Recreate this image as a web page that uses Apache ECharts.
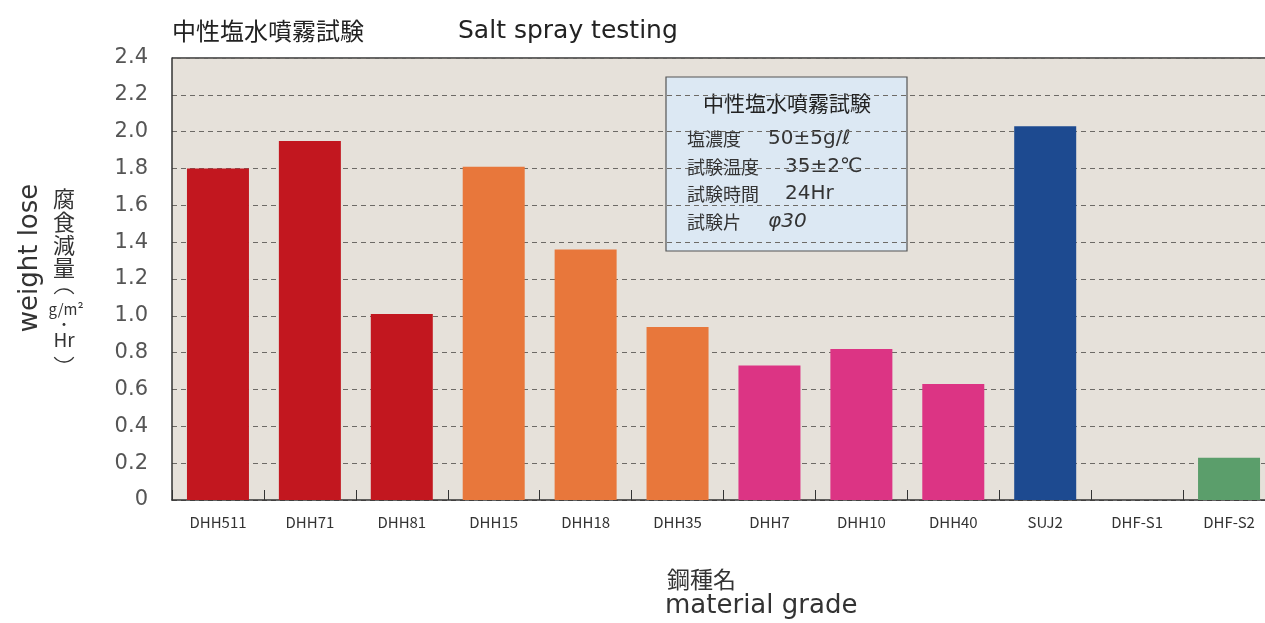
<!DOCTYPE html>
<html>
<head>
<meta charset="utf-8">
<script src="https://cdn.jsdelivr.net/npm/echarts@6/dist/echarts.min.js"></script>
<style>
  html, body { margin: 0; padding: 0; background: #fff; }
  #main { width: 1265px; height: 623px; }
</style>
</head>
<body>
<div id="main"></div>
<script>
// 鋼種名
var grades = ['DHH511', 'DHH71', 'DHH81', 'DHH15', 'DHH18', 'DHH35', 'DHH7', 'DHH10', 'DHH40', 'SUJ2', 'DHF-S1', 'DHF-S2']
// 腐食減量 g/m2・Hr
var weightLose = [1.80, 1.95, 1.01, 1.81, 1.36, 0.94, 0.73, 0.82, 0.63, 2.03, 0, 0.23]
var yTicks = [0, 0.2, 0.4, 0.6, 0.8, 1.0, 1.2, 1.4, 1.6, 1.8, 2.0, 2.2, 2.4]

// colour per bar (steel family)
var barColors = ['#c2171f', '#c2171f', '#c2171f', '#e8773b', '#e8773b', '#e8773b',
  '#dc3484', '#dc3484', '#dc3484', '#1d4a90', '#5b9e6b', '#5b9e6b']

var jp = '"Noto Sans CJK JP", sans-serif'
var lat = '"DejaVu Sans", sans-serif'
var chart = echarts.init(document.getElementById('main'), null, { renderer: 'canvas' })

var option = {
  animation: false,
  backgroundColor: '#fff',
  grid: {
    left: 172,
    top: 58,
    right: -10,
    bottom: 123,
    outerBoundsMode: 'none',
    containLabel: false,
    show: true,
    backgroundColor: '#e6e1da',
    borderWidth: 0
  },
  xAxis: {
    type: 'category',
    data: grades,
    boundaryGap: true,
    axisLine: { lineStyle: { color: '#333', width: 1.5 } },
    axisTick: { show: true, inside: true, length: 10, lineStyle: { color: '#333' } },
    axisLabel: { color: '#333', fontSize: 15, fontFamily: jp, margin: 15, interval: 0, hideOverlap: false }
  },
  yAxis: {
    type: 'value',
    min: 0,
    max: 2.4,
    interval: 0.2,
    axisLine: { show: true, lineStyle: { color: '#333', width: 1.5 } },
    axisTick: { show: false },
    splitLine: { lineStyle: { color: '#6d6a66', type: [5, 4], width: 1 } },
    axisLabel: {
      color: '#555',
      fontSize: 21,
      fontFamily: lat,
      margin: 24,
      formatter: function (v) {
        if (yTicks.indexOf(Math.round(v * 10) / 10) < 0) return ''
        return v === 0 ? '0' : v.toFixed(1)
      }
    }
  },
  series: [{
    type: 'bar',
    data: weightLose,
    barWidth: 62,
    itemStyle: {
      color: function (p) { return barColors[p.dataIndex] }
    }
  }],
  graphic: [
    // top border of plot
    { type: 'line', shape: { x1: 172, y1: 58, x2: 1265, y2: 58 }, style: { stroke: '#333', lineWidth: 1.5 } },
    // title
    { type: 'text', x: 172, y: 31, style: { text: '中性塩水噴霧試験', font: '24px ' + jp, fill: '#222', verticalAlign: 'middle' } },
    { type: 'text', x: 458, y: 31, style: { text: 'Salt spray testing', font: '25px ' + lat, fill: '#222', verticalAlign: 'middle' } },
    // y axis names
    { type: 'text', x: 30, y: 258, rotation: Math.PI / 2, style: { text: 'weight lose', font: '26px ' + lat, fill: '#333', align: 'center', verticalAlign: 'middle' } },
    { type: 'text', x: 64, y: 233, style: { text: '腐\n食\n減\n量', font: '22px ' + jp, fill: '#333', align: 'center', verticalAlign: 'middle', lineHeight: 23 } },
    { type: 'arc', shape: { cx: 64, cy: 301, r: 12, startAngle: Math.PI * 1.2, endAngle: Math.PI * 1.8 }, style: { stroke: '#333', lineWidth: 1.3, fill: null } },
    { type: 'text', x: 66, y: 309, style: { text: 'g/m²', font: '15px ' + jp, fill: '#333', align: 'center', verticalAlign: 'middle' } },
    { type: 'text', x: 64, y: 324, style: { text: '・', font: '14px ' + jp, fill: '#333', align: 'center', verticalAlign: 'middle' } },
    { type: 'text', x: 64, y: 340, style: { text: 'Hr', font: '19px ' + jp, fill: '#333', align: 'center', verticalAlign: 'middle' } },
    { type: 'arc', shape: { cx: 64, cy: 350, r: 12, startAngle: Math.PI * 0.2, endAngle: Math.PI * 0.8 }, style: { stroke: '#333', lineWidth: 1.3, fill: null } },
    // x axis name
    { type: 'text', x: 667, y: 579, style: { text: '鋼種名', font: '23px ' + jp, fill: '#333', verticalAlign: 'middle' } },
    { type: 'text', x: 665, y: 606, style: { text: 'material grade', font: '26px ' + lat, fill: '#333', verticalAlign: 'middle' } },
    // test conditions box
    { type: 'rect', shape: { x: 666, y: 77, width: 241, height: 174 }, style: { fill: '#dce8f3', stroke: '#555', lineWidth: 1.2 } },
    { type: 'text', x: 787, y: 103, style: { text: '中性塩水噴霧試験', font: '21px ' + jp, fill: '#222', align: 'center', verticalAlign: 'middle' } },
    { type: 'text', x: 687, y: 139, style: { text: '塩濃度', font: '18px ' + jp, fill: '#333', verticalAlign: 'middle' } },
    { type: 'text', x: 768, y: 139, style: { text: '50±5g/ℓ', font: '20px ' + lat, fill: '#333', verticalAlign: 'middle' } },
    { type: 'text', x: 687, y: 167, style: { text: '試験温度', font: '18px ' + jp, fill: '#333', verticalAlign: 'middle' } },
    { type: 'text', x: 785, y: 167, style: { text: '35±2℃', font: '20px ' + lat, fill: '#333', verticalAlign: 'middle' } },
    { type: 'text', x: 687, y: 194, style: { text: '試験時間', font: '18px ' + jp, fill: '#333', verticalAlign: 'middle' } },
    { type: 'text', x: 785, y: 194, style: { text: '24Hr', font: '20px ' + lat, fill: '#333', verticalAlign: 'middle' } },
    { type: 'text', x: 687, y: 222, style: { text: '試験片', font: '18px ' + jp, fill: '#333', verticalAlign: 'middle' } },
    { type: 'text', x: 768, y: 222, style: { text: 'φ30', font: 'italic 20px ' + lat, fill: '#333', verticalAlign: 'middle' } }
  ]
}

chart.setOption(option)
</script>
</body>
</html>
